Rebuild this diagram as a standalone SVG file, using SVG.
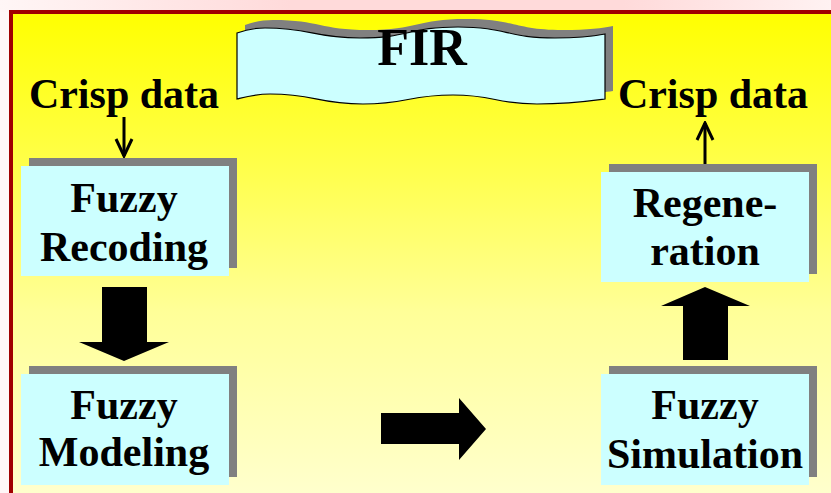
<svg xmlns="http://www.w3.org/2000/svg" width="831" height="493" viewBox="0 0 831 493">
  <defs>
    <linearGradient id="topband" x1="0" y1="0" x2="1" y2="0">
      <stop offset="0" stop-color="#FFF6F6"/>
      <stop offset="0.35" stop-color="#FFDADA"/>
      <stop offset="0.75" stop-color="#FFDADA"/>
      <stop offset="1" stop-color="#FFF2F2"/>
    </linearGradient>
    <linearGradient id="frame" x1="0" y1="0" x2="0" y2="1">
      <stop offset="0" stop-color="#FFFF00"/>
      <stop offset="0.3" stop-color="#FFFF48"/>
      <stop offset="0.6" stop-color="#FFFF98"/>
      <stop offset="1" stop-color="#FFFFD2"/>
    </linearGradient>
    <path id="wave" d="M237,33 C245,30 255,28 265,28 C312,28 312,38 360,38 C409,38 409,27 458,27 C507,27 507,38 555,38 C580,38 595,36 605,34 L605,99 C590,101 570,104 537,104 C495,104 495,95 453,95 C408,95 408,104 363,104 C316,104 316,94 270,94 C255,94 245,97 237,99 Z"/>
    <marker id="open" viewBox="0 0 20 20" refX="18" refY="10" markerWidth="20" markerHeight="20" markerUnits="userSpaceOnUse" orient="auto">
      <path d="M1,2 L18,10 L1,18" fill="none" stroke="#000" stroke-width="3"/>
    </marker>
  </defs>
  <style>
    .t { font-family: "Liberation Serif", "Times New Roman", serif; font-weight: bold; font-size: 42px; fill: #000; text-anchor: middle; }
    .box { fill: #CCFFFF; }
    .shadow { fill: #808080; }
    .big { fill: #000; }
    .thin { stroke: #000; stroke-width: 3; fill: none; }
  </style>

  <rect x="0" y="0" width="831" height="493" fill="#FFF7F7"/>
  <rect x="0" y="0" width="831" height="12" fill="url(#topband)"/>
  <rect x="11" y="12" width="840" height="500" fill="url(#frame)" stroke="#A00000" stroke-width="4"/>

  <g id="title">
    <use href="#wave" transform="translate(8,-8)" class="shadow"/>
    <use href="#wave" class="box" stroke="#000" stroke-width="1.2"/>
    <text class="t" x="422" y="65" style="font-size:52px">FIR</text>
  </g>

  <g id="crisp-in">
    <text class="t" x="124" y="108">Crisp data</text>
  </g>
  <g id="crisp-out">
    <text class="t" x="713" y="108">Crisp data</text>
  </g>

  <g id="recoding">
    <rect class="shadow" x="29" y="158" width="208" height="110"/>
    <rect class="box" x="21" y="166" width="208" height="110"/>
    <text class="t" x="124" y="212">Fuzzy</text>
    <text class="t" x="124" y="261">Recoding</text>
  </g>

  <g id="modeling">
    <rect class="shadow" x="29" y="366" width="208" height="111"/>
    <rect class="box" x="21" y="374" width="208" height="111"/>
    <text class="t" x="124" y="419">Fuzzy</text>
    <text class="t" x="124" y="466">Modeling</text>
  </g>

  <g id="regeneration">
    <rect class="shadow" x="609" y="164" width="208" height="110"/>
    <rect class="box" x="601" y="172" width="208" height="110"/>
    <text class="t" x="705" y="217">Regene-</text>
    <text class="t" x="705" y="265">ration</text>
  </g>

  <g id="simulation">
    <rect class="shadow" x="609" y="366" width="208" height="111"/>
    <rect class="box" x="601" y="374" width="208" height="111"/>
    <text class="t" x="705" y="419">Fuzzy</text>
    <text class="t" x="705" y="468">Simulation</text>
  </g>

  <g id="connectors">
    <line class="thin" x1="124" y1="117" x2="124" y2="156" marker-end="url(#open)"/>
    <line class="thin" x1="705" y1="164" x2="705" y2="123" marker-end="url(#open)"/>
    <polygon class="big" points="102,287 147,287 147,342 169,342 124,361 79,342 102,342"/>
    <polygon class="big" points="683,360 728,360 728,306 750,306 705,287 661,306 683,306"/>
    <polygon class="big" points="381,413 459,413 459,398 486,429 459,460 459,444 381,444"/>
  </g>
</svg>
